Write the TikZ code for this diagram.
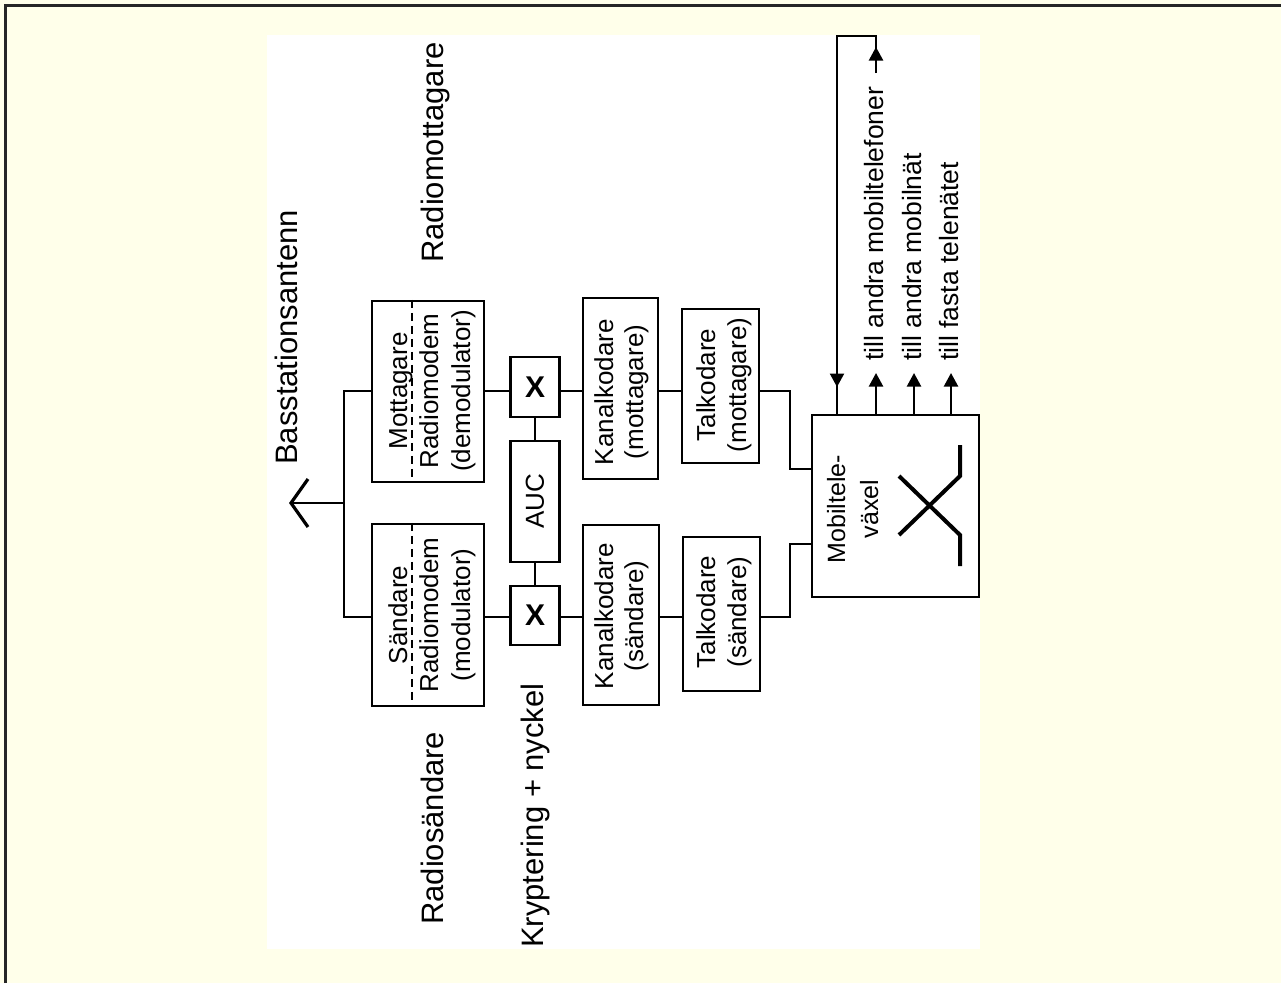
\documentclass[tikz,border=0pt]{standalone}
\usepackage{fontspec}
\setmainfont{Liberation Sans}
\usetikzlibrary{arrows.meta,calc}
\definecolor{bgyellow}{HTML}{FFFFEA}
\begin{document}
\begin{tikzpicture}[x=1pt,y=-1pt,
  box/.style={draw, line width=2.2pt, inner sep=0pt, fill=white},
  txt/.style={rotate=90, inner sep=0pt, anchor=base, font=\fontsize{26}{31}\selectfont},
  big/.style={rotate=90, inner sep=0pt, anchor=base west, font=\fontsize{31}{36}\selectfont},
  outl/.style={rotate=90, inner sep=0pt, anchor=base west, font=\fontsize{26.5}{31}\selectfont},
  xmark/.style={inner sep=0pt, font=\fontsize{30}{36}\selectfont\bfseries},
  conn/.style={line width=2.2pt},
  arr/.style={line width=2.2pt, -{Triangle[length=13.5pt,width=14pt]}},
  sepline/.style={line width=1.5pt, dash pattern=on 8pt off 5pt}]
\useasboundingbox (0,0) rectangle (1281,983);
\fill[bgyellow] (0,0) rectangle (1281,983);
\fill[white] (267,35) rectangle (980,949);
\draw[line width=3pt, black!85] (5.5,983) -- (5.5,5.5) -- (1281,5.5);

% boxes
\node[box, minimum width=112pt, minimum height=181pt] (mot) at (428,391.5) {};
\node[box, minimum width=112pt, minimum height=182pt] (sen) at (428,615) {};
\node[box, minimum width=49pt, minimum height=60pt] (xu) at (535,387) {};
\node[box, minimum width=49pt, minimum height=121pt] (auc) at (535,501.5) {};
\node[box, minimum width=49pt, minimum height=59pt] (xl) at (535,615.5) {};
\node[box, minimum width=75pt, minimum height=181pt] (km) at (620.5,388.5) {};
\node[box, minimum width=76pt, minimum height=180pt] (ks) at (621,615) {};
\node[box, minimum width=77pt, minimum height=154pt] (tm) at (720.5,386) {};
\node[box, minimum width=77pt, minimum height=154pt] (ts) at (721.5,614) {};
\node[box, minimum width=167pt, minimum height=182pt] (mv) at (895.5,506) {};

% box texts
\node[txt] (mot1) at (407,391) {Mottagare};
\node[txt] (mot2) at (438,391) {Radiomodem};
\node[txt] (mot3) at (470,391) {(demodulator)};
\node[txt] (sen1) at (407,615) {Sändare};
\node[txt] (sen2) at (438,615) {Radiomodem};
\node[txt] (sen3) at (470,615) {(modulator)};
\draw[sepline] ([xshift=41pt]mot.north west) -- ([xshift=41pt]mot.south west);
\draw[sepline] ([xshift=41pt]sen.north west) -- ([xshift=41pt]sen.south west);
\node[xmark] (xut) at (xu.center) {X};
\node[xmark] (xlt) at (xl.center) {X};
\node[txt, anchor=center] (auct) at (auc.center) {AUC};
\node[txt] (km1) at (613,392) {Kanalkodare};
\node[txt] (km2) at (643,392) {(mottagare)};
\node[txt] (ks1) at (613,616) {Kanalkodare};
\node[txt] (ks2) at (643,616) {(sändare)};
\node[txt] (tm1) at (715,385) {Talkodare};
\node[txt] (tm2) at (746,385) {(mottagare)};
\node[txt] (ts1) at (715,612) {Talkodare};
\node[txt] (ts2) at (746,612) {(sändare)};
\node[txt, font=\fontsize{25}{30}\selectfont] (mv1) at (845,509) {Mobiltele-};
\node[txt, font=\fontsize{25}{30}\selectfont] (mv2) at (878,509) {växel};

% switch symbol
\draw[line width=4pt] (899,476) -- (960,535) -- (960,566);
\draw[line width=4pt] (899,535) -- (960,476) -- (960,445);

% big labels
\node[big] (lbant) at (297,465) {Basstationsantenn};
\node[big] (lbrm) at (443,263) {Radiomottagare};
\node[big] (lbrs) at (443,925) {Radiosändare};
\node[big] (lbkr) at (543,948) {Kryptering + nyckel};

% rows
\coordinate (ru) at (0,391);
\coordinate (rl) at (0,617);
\draw[conn] (mot.east |- ru) -- (xu.west |- ru);
\draw[conn] (xu.east |- ru) -- (km.west |- ru);
\draw[conn] (km.east |- ru) -- (tm.west |- ru);
\draw[conn] (sen.east |- rl) -- (xl.west |- rl);
\draw[conn] (xl.east |- rl) -- (ks.west |- rl);
\draw[conn] (ks.east |- rl) -- (ts.west |- rl);
\draw[conn] (xu.south) -- (auc.north);
\draw[conn] (auc.south) -- (xl.north);

% antenna
\coordinate (bus) at (344,503);
\coordinate (ant) at (291,503);
\draw[conn] (mot.west |- ru) -| (bus) |- (sen.west |- rl);
\draw[conn] (bus) -- (ant);
\draw[line width=3.2pt] ($(ant)+(17,-24)$) -- (ant) -- ($(ant)+(17,24)$);

% to switch
\coordinate (jx) at (790,0);
\coordinate (c1) at (0,469);
\coordinate (c2) at (0,544);
\draw[conn] (tm.east |- ru) -| (jx |- c1) -- (mv.west |- c1);
\draw[conn] (ts.east |- rl) -| (jx |- c2) -- (mv.west |- c2);

% outputs
\coordinate (o1) at (837,0);
\coordinate (o2) at (876,0);
\coordinate (o3) at (914,0);
\coordinate (o4) at (951,0);
\coordinate (top) at (0,36);
\coordinate (lt) at (0,73);
\coordinate (at) at (0,47);
\coordinate (dn) at (0,387);
\coordinate (up) at (0,373);
\draw[conn] (mv.north -| o1) -- (o1 |- top) -- (o2 |- top) -- (o2 |- lt);
\draw[arr] (o2 |- lt) -- (o2 |- at);
\draw[arr] (o1 |- top) -- (o1 |- dn);
\draw[arr] (mv.north -| o2) -- (o2 |- up);
\draw[arr] (mv.north -| o3) -- (o3 |- up);
\draw[arr] (mv.north -| o4) -- (o4 |- up);
\node[outl] (t1) at (883,361) {till andra mobiltelefoner};
\node[outl] (t2) at (921,361) {till andra mobilnät};
\node[outl] (t3) at (958,361) {till fasta telenätet};
\end{tikzpicture}
\end{document}
